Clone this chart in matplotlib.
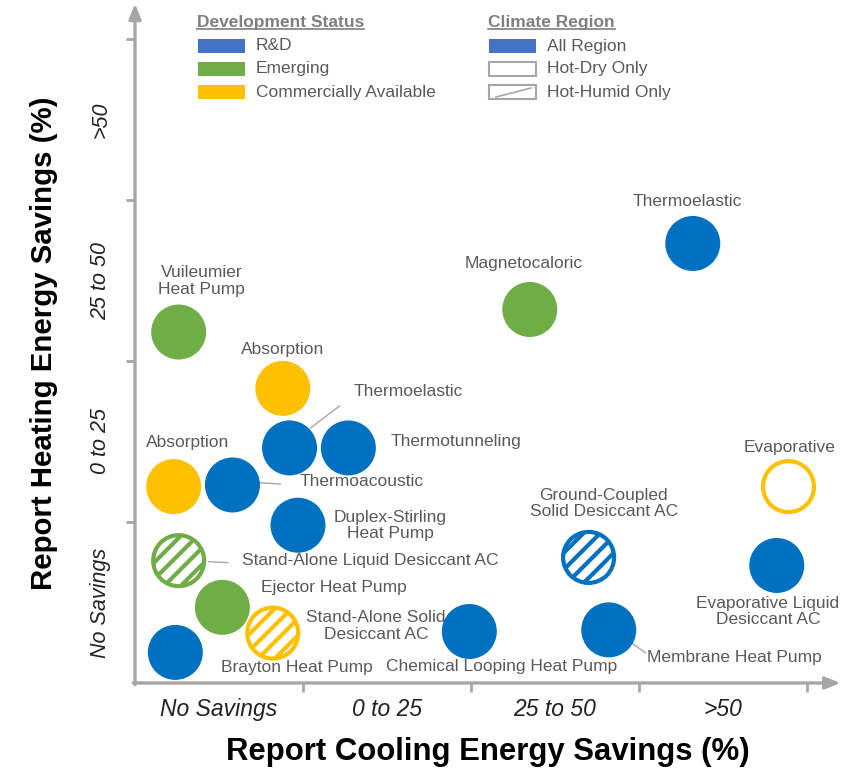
import matplotlib
matplotlib.use("Agg")
import matplotlib.pyplot as plt
from matplotlib.patches import Ellipse, Rectangle
from matplotlib.lines import Line2D

plt.rcParams["font.family"] = ["Liberation Sans", "DejaVu Sans"]
plt.rcParams["hatch.linewidth"] = 3.0

# --- data (1 unit = one savings bin) ---
categories = ["No Savings", "0 to 25", "25 to 50", ">50"]

tech_names = [
    "Thermoelastic", "Magnetocaloric", "Vuileumier\nHeat Pump", "Absorption",
    "Thermoelastic", "Thermotunneling", "Absorption", "Thermoacoustic",
    "Duplex-Stirling\nHeat Pump", "Stand-Alone Liquid Desiccant AC",
    "Ejector Heat Pump", "Stand-Alone Solid\nDesiccant AC", "Brayton Heat Pump",
    "Chemical Looping Heat Pump", "Membrane Heat Pump",
    "Ground-Coupled\nSolid Desiccant AC", "Evaporative",
    "Evaporative Liquid\nDesiccant AC",
]
cooling_score = [3.32, 2.35, 0.26, 0.88, 0.92, 1.27, 0.23, 0.58, 0.97,
                 0.26, 0.52, 0.82, 0.24, 1.99, 2.82, 2.70, 3.89, 3.82]
heating_score = [2.73, 2.32, 2.18, 1.83, 1.46, 1.46, 1.22, 1.23, 0.98,
                 0.76, 0.47, 0.31, 0.19, 0.32, 0.33, 0.78, 1.22, 0.73]
dev_status = ["R&D", "Emerging", "Emerging", "Commercially Available",
              "R&D", "R&D", "Commercially Available", "R&D", "R&D",
              "Emerging", "Emerging", "Commercially Available", "R&D",
              "R&D", "R&D", "R&D", "Commercially Available", "R&D"]
climate_region = ["All Region"] * 9 + ["Hot-Humid Only", "All Region", "Hot-Humid Only",
                                       "All Region", "All Region", "All Region",
                                       "Hot-Humid Only", "Hot-Dry Only", "All Region"]

status_order = ["R&D", "Emerging", "Commercially Available"]
climate_order = ["All Region", "Hot-Dry Only", "Hot-Humid Only"]

# label placement, offset from bubble centre in pixels (x right, y up)
label_offsets = [(-5, 42), (-6, 46), (23, 51), (0, 39), (119, 56), (108, 6),
                 (14, 44), (129, 3), (92, 0), (192, 0), (112, 20), (103, 7),
                 (122, -15), (32, -35), (126, -28), (15, 54), (1, 39), (-9, -46)]
# leader lines: index -> (start offset, end offset) in pixels
leaders = {4: ((21, 20), (50, 42)), 7: ((13, 3), (48, 1)),
           9: ((30, -1), (49, -2)), 14: ((15, -8), (37, -23))}

bubble_colors = {"R&D": "#0070C0", "Emerging": "#70AD47",
                 "Commercially Available": "#FFC000"}
legend_colors = {"R&D": "#4472C4", "Emerging": "#70AD47",
                 "Commercially Available": "#FFC000"}
axis_gray = "#A6A6A6"
text_gray = "#595959"

W, H = 841, 771
fig = plt.figure(figsize=(W / 100, H / 100), dpi=100)
x_max, y_max = 4.2, 4.22
ax = fig.add_axes([135 / W, 88 / H, x_max * 168 / W, y_max * 161 / H])
ax.set_xlim(0, x_max)
ax.set_ylim(0, y_max)
for s in ax.spines.values():
    s.set_visible(False)

px_x = ax.bbox.width / x_max   # pixels per data unit
px_y = ax.bbox.height / y_max

# axes with arrow heads
arrow_kw = dict(arrowstyle="-|>,head_length=0.45,head_width=0.18", color=axis_gray,
                lw=2.4, shrinkA=0, shrinkB=0, mutation_scale=20)
ax.annotate("", xy=(x_max, 0), xytext=(-0.01, 0), arrowprops=arrow_kw,
            annotation_clip=False)
ax.annotate("", xy=(0, y_max), xytext=(0, -0.01), arrowprops=arrow_kw,
            annotation_clip=False)

ax.set_xticks([1, 2, 3, 4])
ax.set_yticks([1, 2, 3, 4])
ax.set_xticklabels([])
ax.set_yticklabels([])
ax.tick_params(which="major", length=6.5, width=2, color=axis_gray)
ax.set_xticks([0.5, 1.5, 2.5, 3.5], minor=True)
ax.set_yticks([0.5, 1.5, 2.5, 3.5], minor=True)
ax.set_xticklabels(categories, minor=True, fontsize=16.5, style="italic", color="#222222")
ax.set_yticklabels(categories, minor=True, fontsize=15.5, style="italic", color="#222222",
                   rotation=90, va="center")
ax.tick_params(axis="x", which="minor", length=0, pad=11)
ax.tick_params(axis="y", which="minor", length=0, pad=17)

ax.set_xlabel("Report Cooling Energy Savings (%)", fontsize=22.4, fontweight="bold",
              labelpad=11)
ax.set_ylabel("Report Heating Energy Savings (%)", fontsize=21.2, fontweight="bold",
              labelpad=23)

# leader lines (under bubbles)
for i, ((x0, y0), (x1, y1)) in leaders.items():
    cx, cy = cooling_score[i], heating_score[i]
    ax.add_line(Line2D([cx + x0 / px_x, cx + x1 / px_x], [cy + y0 / px_y, cy + y1 / px_y],
                       color=axis_gray, lw=1, zorder=1))

# bubbles
d_fill, d_ring = 55, 51
for i in range(len(tech_names)):
    col = bubble_colors[dev_status[i]]
    xy = (cooling_score[i], heating_score[i])
    region = climate_region[i]
    if region == "All Region":
        e = Ellipse(xy, d_fill / px_x, d_fill / px_y, facecolor=col, edgecolor="none",
                    zorder=3)
    else:
        e = Ellipse(xy, d_ring / px_x, d_ring / px_y, facecolor="white", edgecolor=col,
                    lw=3, zorder=3, hatch="//" if region == "Hot-Humid Only" else None)
    ax.add_patch(e)
    dx, dy = label_offsets[i]
    ax.annotate(tech_names[i], xy=xy, xytext=(dx, dy), textcoords="offset pixels",
                ha="center", va="center", fontsize=12.5, color=text_gray,
                linespacing=1.1, zorder=4)


# legends (figure pixel coordinates)
def fx(x):
    return x / W


def fy(y):
    return 1 - y / H


def legend_block(x0, title, entries, styles):
    t = fig.text(fx(x0), fy(22), title, fontsize=12.5, fontweight="bold",
                 color="#7F7F7F", va="center", ha="left")
    rows = [46, 69, 92]
    for name, row, st in zip(entries, rows, styles):
        fig.add_artist(Rectangle((fx(x0 + 1), fy(row + 7)), 47 / W, 14 / H,
                                 transform=fig.transFigure, **st))
        fig.text(fx(x0 + 59), fy(row), name, fontsize=12.5, color=text_gray,
                 va="center", ha="left")
    return t


t1 = legend_block(197, "Development Status", status_order,
                  [dict(facecolor=legend_colors[s], edgecolor="none") for s in status_order])
t2 = legend_block(488, "Climate Region", climate_order,
                  [dict(facecolor=legend_colors["R&D"], edgecolor="none"),
                   dict(facecolor="white", edgecolor=axis_gray, lw=1.5),
                   dict(facecolor="white", edgecolor=axis_gray, lw=1.5)])
# diagonal mark in the hot-humid swatch
fig.add_artist(Line2D([fx(496), fx(531)], [fy(97), fy(88)], color=axis_gray, lw=1.2,
                      transform=fig.transFigure))

fig.canvas.draw()
r = fig.canvas.get_renderer()
for t in (t1, t2):
    bb = t.get_window_extent(r)
    fig.add_artist(Line2D([bb.x0 / W, bb.x1 / W], [fy(29), fy(29)], color="#7F7F7F",
                          lw=1.2, transform=fig.transFigure))

fig.savefig("out.png", dpi=100)
